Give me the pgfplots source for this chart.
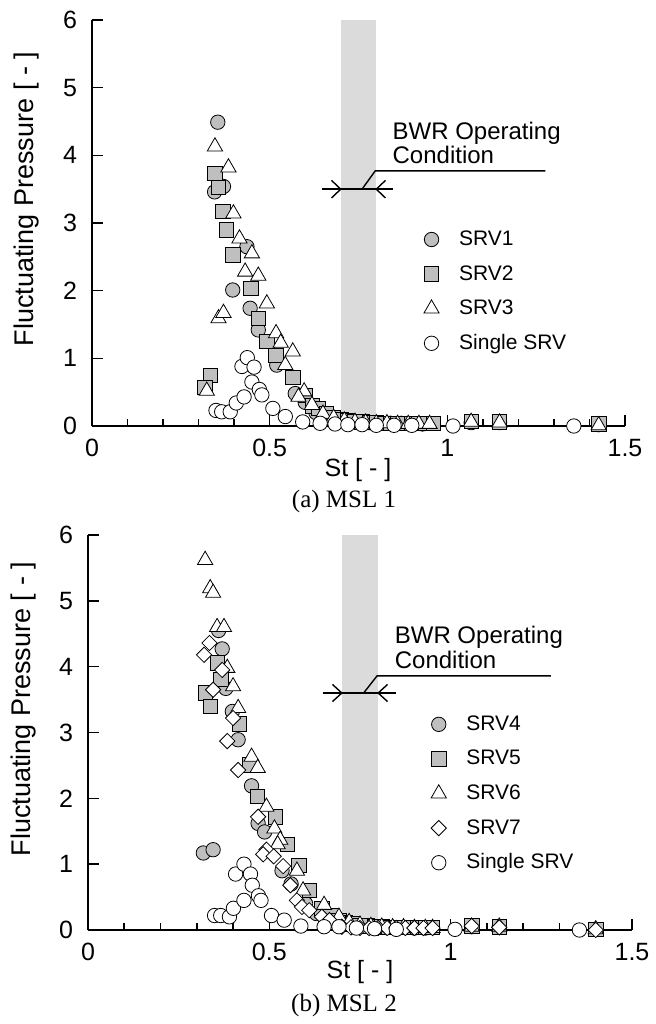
\documentclass[border=0pt]{standalone}
\usepackage{pgfplots}
\pgfplotsset{compat=1.18}
\usepackage{fontspec}
\setmainfont{Liberation Sans}
\newfontfamily\serif{Liberation Serif}

\pgfplotsset{
  msl/.style={
    scale only axis, width=266.5pt,
    xmin=0, xmax=1.5, ymin=0, ymax=6,
    axis x line*=bottom, axis y line*=left,
    axis line style={-, line width=0.9pt},
    tick align=inside,
    xtick={0,0.5,1,1.5}, xticklabels={0,0.5,1,1.5},
    minor x tick num=4,
    ytick={0,1,2,3,4,5,6},
    major tick length=5.5pt, minor tick length=3.5pt,
    every tick/.style={black, line width=0.8pt},
    tick label style={font=\fontsize{12.5}{14}\selectfont},
    xticklabel style={yshift=-3pt},
    yticklabel style={xshift=-4pt},
    /pgf/number format/assume math mode=true,
    clip=false,
    legend style={draw=none, fill=none, font=\fontsize{10.5}{12}\selectfont,
      anchor=north west, row sep=7.3pt, column sep=10pt, inner sep=0pt,
      nodes={inner sep=0pt, text height=8pt, text depth=2pt}},
    legend cell align=left,
  },
  mk/.style={only marks, mark options={draw=black, line width=0.8pt}},
  gc/.style={mk, mark=*, mark size=3.6pt, mark options={fill=gray!50}},
  gs/.style={mk, mark=square*, mark size=3.6pt, mark options={fill=gray!50}},
  wt/.style={mk, mark=triangle*, mark size=4.4pt, mark options={fill=white}},
  wd/.style={mk, mark=square*, mark size=2.7pt, mark options={rotate=45, fill=white}},
  wc/.style={mk, mark=*, mark size=3.6pt, mark options={fill=white}},
  band/.style={fill=gray!28, draw=none, forget plot},
}

\begin{document}
\begin{tikzpicture}
\useasboundingbox (0,0) rectangle (328pt,-512pt);

% ---------------- (a) MSL 1
\begin{axis}[msl, height=203pt, at={(46pt,-213pt)}, anchor=south west,
  legend style={at={(0.622,0.485)}}]
\addplot[band] coordinates {(0.7,6) (0.8,6)} \closedcycle;
\addplot[gc] coordinates {
 (0.354,4.49) (0.370,3.54) (0.345,3.46) (0.436,2.65) (0.396,2.01) (0.445,1.74)
 (0.468,1.42) (0.520,0.90) (0.572,0.48) (0.600,0.35) (0.630,0.20) (0.660,0.12)
 (0.690,0.09) (0.720,0.07) (0.750,0.06) (0.780,0.05) (0.810,0.05) (0.840,0.04)
 (0.870,0.04) (0.900,0.03) (0.930,0.03) (1.067,0.05) (1.147,0.05) (1.426,0.02)};
\addlegendentry{SRV1}
\addplot[gs] coordinates {
 (0.346,3.73) (0.356,3.53) (0.368,3.17) (0.379,2.90) (0.396,2.53) (0.447,2.03)
 (0.468,1.59) (0.492,1.25) (0.518,1.04) (0.565,0.72) (0.334,0.75) (0.318,0.57)
 (0.600,0.45) (0.620,0.30) (0.637,0.26) (0.660,0.18) (0.680,0.13) (0.700,0.10)
 (0.720,0.08) (0.740,0.07) (0.760,0.06) (0.780,0.05) (0.800,0.05) (0.820,0.04)
 (0.840,0.04) (0.860,0.04) (0.880,0.04) (0.900,0.04) (0.920,0.04) (0.940,0.04)
 (0.960,0.04) (1.067,0.07) (1.147,0.06) (1.426,0.03)};
\addlegendentry{SRV2}
\addplot[wt] coordinates {
 (0.346,4.13) (0.384,3.82) (0.398,3.14) (0.415,2.77) (0.450,2.55) (0.431,2.28)
 (0.468,2.22) (0.492,1.81) (0.356,1.59) (0.370,1.67) (0.518,1.37) (0.531,1.23)
 (0.565,1.10) (0.544,0.90) (0.597,0.51) (0.581,0.43) (0.619,0.31) (0.323,0.52)
 (0.650,0.18) (0.680,0.12) (0.710,0.08) (0.740,0.06) (0.770,0.05) (0.800,0.04)
 (0.830,0.04) (0.860,0.03) (0.890,0.03) (0.920,0.03) (0.950,0.03) (1.067,0.06)
 (1.147,0.05) (1.426,0.01)};
\addlegendentry{SRV3}
\addplot[wc] coordinates {
 (0.349,0.23) (0.365,0.21) (0.389,0.21) (0.406,0.34) (0.428,0.43) (0.422,0.88)
 (0.437,1.01) (0.456,0.87) (0.450,0.65) (0.471,0.54) (0.478,0.46) (0.509,0.26)
 (0.544,0.14) (0.593,0.06) (0.642,0.04) (0.684,0.03) (0.720,0.02) (0.760,0.02)
 (0.800,0.01) (0.850,0.01) (0.900,0.01) (1.016,0.00) (1.356,0.00)};
\addlegendentry{Single SRV}
% BWR operating condition marker
\draw[line width=0.7pt] (axis cs:0.647,3.5) -- (axis cs:0.848,3.5);
\draw[line width=0.7pt] (axis cs:0.674,3.63) -- (axis cs:0.7,3.5) -- (axis cs:0.674,3.37);
\draw[line width=0.7pt] (axis cs:0.826,3.63) -- (axis cs:0.8,3.5) -- (axis cs:0.826,3.37);
\draw[line width=0.7pt] (axis cs:0.76,3.5) -- (axis cs:0.797,3.77) -- (axis cs:1.276,3.77);
\node[anchor=south west, align=left, inner sep=0pt,
  font=\fontsize{12}{10.5}\selectfont] at (axis cs:0.845,3.87)
  {BWR Operating\\Condition};
\end{axis}

% ---------------- (b) MSL 2
\begin{axis}[msl, width=272pt, height=197.5pt, at={(44pt,-465pt)}, anchor=south west,
  legend style={at={(0.63,0.547)}}]
\addplot[band] coordinates {(0.7,6) (0.8,6)} \closedcycle;
\addplot[gc] coordinates {
 (0.360,4.55) (0.370,4.27) (0.380,3.67) (0.398,3.32) (0.414,2.89) (0.451,2.19)
 (0.469,1.62) (0.487,1.49) (0.318,1.17) (0.345,1.22) (0.535,0.90) (0.560,0.70)
 (0.600,0.40) (0.630,0.25) (0.660,0.15) (0.690,0.10) (0.720,0.08) (0.750,0.06)
 (0.780,0.05) (0.810,0.05) (0.840,0.04) (0.870,0.04) (0.900,0.03) (0.930,0.03)
 (1.058,0.05) (1.134,0.05) (1.400,0.01)};
\addlegendentry{SRV4}
\addplot[gs] coordinates {
 (0.356,4.06) (0.367,3.81) (0.323,3.60) (0.337,3.40) (0.417,3.13) (0.445,2.51)
 (0.467,2.03) (0.517,1.72) (0.550,1.30) (0.581,0.98) (0.610,0.60) (0.645,0.33)
 (0.670,0.22) (0.692,0.15) (0.710,0.11) (0.730,0.09) (0.750,0.07) (0.770,0.06)
 (0.790,0.05) (0.810,0.05) (0.830,0.04) (0.850,0.04) (0.870,0.04) (0.890,0.04)
 (0.910,0.04) (0.930,0.04) (0.950,0.04) (1.058,0.06) (1.134,0.05) (1.400,0.01)};
\addlegendentry{SRV5}
\addplot[wt] coordinates {
 (0.323,5.62) (0.337,5.19) (0.345,5.12) (0.356,4.60) (0.375,4.60) (0.384,3.98)
 (0.400,3.70) (0.414,3.37) (0.451,2.63) (0.468,2.46) (0.492,1.87) (0.514,1.54)
 (0.530,1.37) (0.523,1.30) (0.576,0.90) (0.593,0.60) (0.651,0.38) (0.692,0.20)
 (0.720,0.12) (0.750,0.08) (0.780,0.06) (0.810,0.05) (0.840,0.04) (0.870,0.04)
 (0.900,0.03) (0.930,0.03) (0.950,0.03) (1.058,0.05) (1.134,0.05) (1.400,0.01)};
\addlegendentry{SRV6}
\addplot[wd] coordinates {
 (0.335,4.36) (0.320,4.18) (0.370,3.95) (0.345,3.65) (0.400,3.22) (0.384,2.87)
 (0.414,2.43) (0.469,1.72) (0.492,1.22) (0.483,1.15) (0.512,1.12) (0.538,0.97)
 (0.558,0.68) (0.576,0.45) (0.590,0.35) (0.610,0.30) (0.645,0.20) (0.666,0.15)
 (0.700,0.05) (0.725,0.04) (0.750,0.03) (0.775,0.03) (0.800,0.03) (0.825,0.03)
 (0.850,0.03) (0.875,0.03) (0.900,0.03) (0.925,0.03) (0.950,0.03) (1.058,0.06)
 (1.134,0.04) (1.400,0.00)};
\addlegendentry{SRV7}
\addplot[wc] coordinates {
 (0.349,0.22) (0.366,0.22) (0.390,0.20) (0.401,0.33) (0.430,0.45) (0.407,0.85)
 (0.430,1.00) (0.448,0.85) (0.453,0.68) (0.470,0.52) (0.477,0.45) (0.506,0.22)
 (0.541,0.15) (0.587,0.06) (0.651,0.05) (0.692,0.05) (0.740,0.03) (0.790,0.02)
 (0.850,0.01) (1.012,0.01) (1.355,0.00)};
\addlegendentry{Single SRV}
\draw[line width=0.7pt] (axis cs:0.647,3.6) -- (axis cs:0.848,3.6);
\draw[line width=0.7pt] (axis cs:0.674,3.73) -- (axis cs:0.7,3.6) -- (axis cs:0.674,3.47);
\draw[line width=0.7pt] (axis cs:0.826,3.73) -- (axis cs:0.8,3.6) -- (axis cs:0.826,3.47);
\draw[line width=0.7pt] (axis cs:0.76,3.6) -- (axis cs:0.797,3.86) -- (axis cs:1.276,3.86);
\node[anchor=south west, align=left, inner sep=0pt,
  font=\fontsize{12}{10.5}\selectfont] at (axis cs:0.845,3.97)
  {BWR Operating\\Condition};
\end{axis}

% axis labels and captions
\node[rotate=90, font=\fontsize{13.5}{15}\selectfont] at (13.5pt,-99.5pt) {Fluctuating Pressure [ - ]};
\node[rotate=90, font=\fontsize{13.5}{15}\selectfont] at (12pt,-354.5pt) {Fluctuating Pressure [ - ]};
\node[font=\fontsize{12.5}{14}\selectfont] at (179pt,-235pt) {St [ - ]};
\node[font=\fontsize{12.5}{14}\selectfont] at (180pt,-486pt) {St [ - ]};
\node[font=\serif\fontsize{12.5}{14}\selectfont] at (172pt,-250.5pt) {(a) MSL 1};
\node[font=\serif\fontsize{12.5}{14}\selectfont] at (172pt,-502.5pt) {(b) MSL 2};
\end{tikzpicture}
\end{document}
